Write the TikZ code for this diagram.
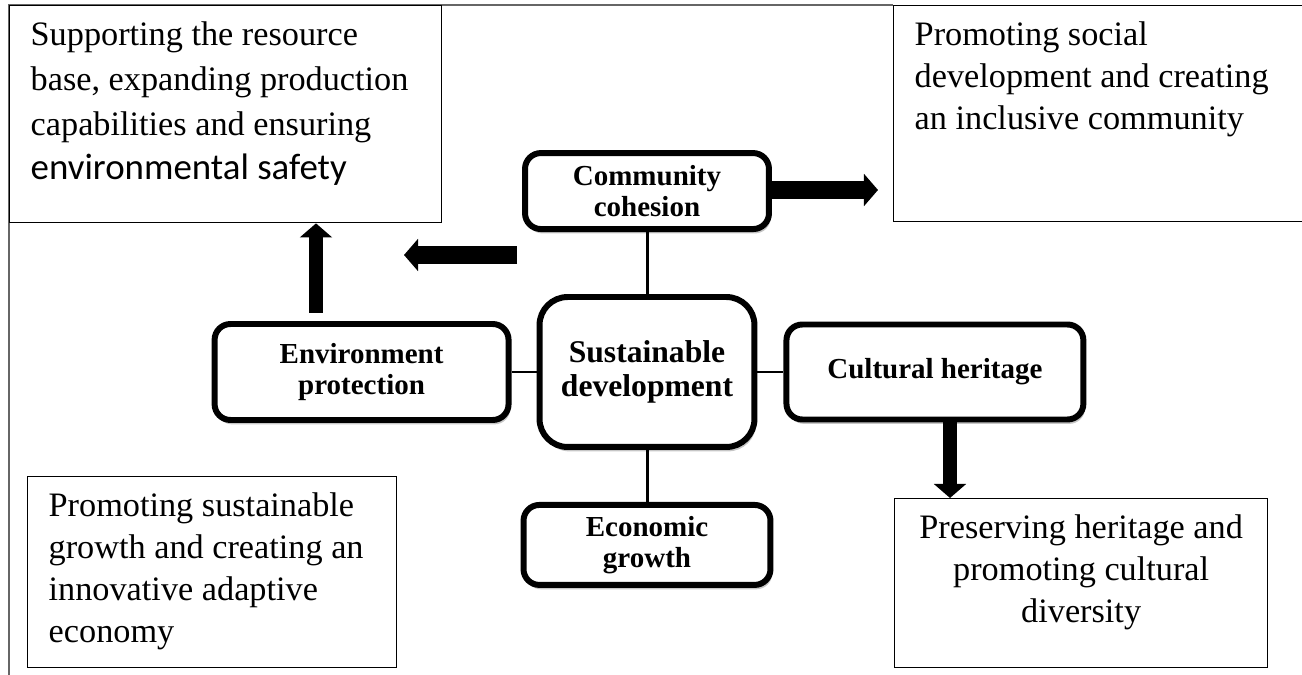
\documentclass[tikz,border=0pt]{standalone}
\usepackage{fontspec}
\setmainfont{Liberation Serif}
\newfontfamily\safetyfont{Carlito}
\usepackage{tikz}
\usetikzlibrary{arrows.meta,positioning,shadows}

\begin{document}
\begin{tikzpicture}[x=0.02cm,y=-0.02cm,line width=1.7pt,
    pillar/.style={draw,line width=3.4pt,rounded corners=9pt,fill=white,align=center,
      font=\fontsize{16.5}{17.5}\selectfont\bfseries,
      drop shadow={shadow xshift=1pt,shadow yshift=-2.5pt,opacity=0.45}},
    textbox/.style={draw,line width=0.8pt,anchor=north west,inner xsep=0.42cm,inner ysep=0.32cm,
      font=\fontsize{19.5}{24}\selectfont},
    bigarrow/.style={line width=8pt,-{Triangle[width=18pt,length=8pt]}}]
  \useasboundingbox (0,0) rectangle (1302,675);
  % frame
  \draw[line width=0.8pt,black!60] (9,675) -- (9,5) -- (893,5);

  % outcome boxes
  \node[textbox,font=\fontsize{19.5}{25.5}\selectfont]	(resource)	at (9,5)	{\parbox[t][3.7cm][t]{7.8cm}{Supporting the resource\\
	base, expanding production\\ capabilities and ensuring\\
	{\fontsize{21}{25.5}\selectfont\safetyfont environmental safety}}};
  \node[textbox]	(social)	at (893,5)	{\parbox[t][3.68cm][t]{7.38cm}{Promoting social\\
	development and creating\\ an inclusive community}};
  \node[textbox]	(economy)	at (27,476)	{\parbox[t][3.18cm][t]{6.54cm}{Promoting sustainable\\
	growth and creating an\\ innovative adaptive\\ economy}};
  \node[textbox]	(heritage)	at (894,498)	{\parbox[t][2.74cm][t]{6.62cm}{\centering Preserving heritage and\\
	promoting cultural\\ diversity}};

  % pillars
  \node[pillar,rounded corners=16pt,minimum width=4.3cm,minimum height=3cm,
	font=\fontsize{18}{19.5}\selectfont\bfseries]	(sust)	at (647,372)	{Sustainable\\development};
  \node[pillar,minimum width=5.88cm,minimum height=1.92cm]	(env)	[left=0.5cm of sust]	{Environment\\protection};
  \node[pillar,minimum width=5.94cm,minimum height=1.9cm]	(cult)	[right=0.52cm of sust]	{Cultural heritage};
  \node[pillar,minimum width=4.88cm,minimum height=1.52cm]	(cohesion)	[above=1.24cm of sust]	{Community\\cohesion};
  \node[pillar,minimum width=4.94cm,minimum height=1.6cm]	(econ)	[below=1.04cm of sust]	{Economic\\growth};

  \path	(cohesion) edge (sust)
	(sust) edge (econ)
	(env) edge (sust)
	(sust) edge (cult);

  % block arrows
  \coordinate (socialtip) at (878,190);
  \coordinate (lefttail) at (517,255);
  \coordinate (lefttip) at (404,255);
  \coordinate (uptail) at (316,313);
  \coordinate (downx) at (950,0);
  \draw[bigarrow,line width=10pt]	(cohesion.east |- socialtip) -- (socialtip);
  \draw[bigarrow,line width=10pt]	(lefttail) -- (lefttip);
  \draw[bigarrow]	(uptail) -- (resource.south -| uptail);
  \draw[bigarrow]	(cult.south -| downx) -- (heritage.north -| downx);
\end{tikzpicture}
\end{document}
